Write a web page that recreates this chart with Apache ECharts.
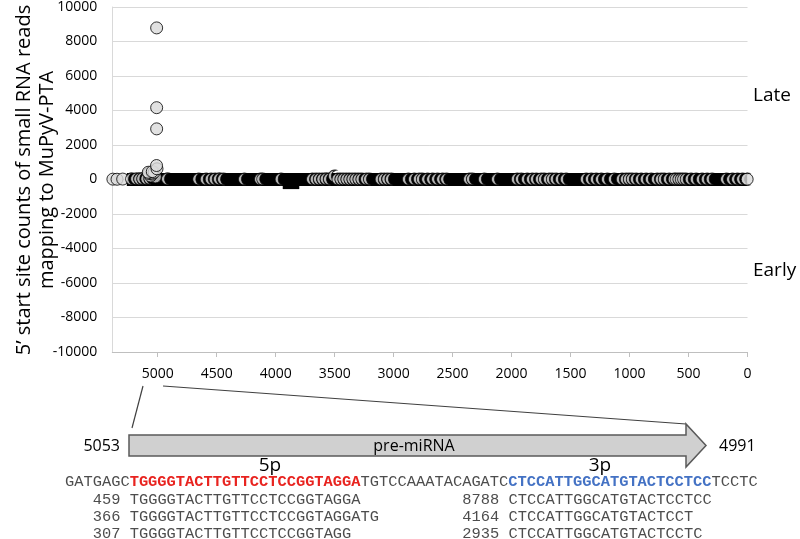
<!DOCTYPE html>
<html><head><meta charset="utf-8">
<script src="https://cdn.jsdelivr.net/npm/echarts@6/dist/echarts.min.js"></script>
<style>html,body{margin:0;padding:0;background:#fff}#c{width:800px;height:539px}</style>
</head><body><div id="c"></div>
<script>
// ---- axis ticks ----
const xTickValues = [5000, 4500, 4000, 3500, 3000, 2500, 2000, 1500, 1000, 500, 0];
const genomeMax = 5385;
const yMin = -10000, yMax = 10000, yStep = 2000;

// ---- 5' start sites with few reads (genome position, count) ----
const backgroundSites = [
  [5380,20],[5345,15],[5297,25],[5260,30],[5217,40],[5190,30],[5165,50],[5130,40],[5105,60],
  [4955,30],[4690,20],[4627,15],[4585,25],[4551,20],[4515,30],[4480,20],[4303,15],[4167,20],[4148,25],[3992,20],
  [3726,20],[3695,15],[3667,25],[3638,20],[3610,30],[3582,20],[3540,200],
  [3510,20],[3485,15],[3460,25],[3434,20],[3409,15],[3383,25],[3358,20],[3332,15],[3307,20],[3268,25],[3243,20],
  [3144,15],[3116,20],[3087,25],[3057,20],
  [2913,15],[2862,20],[2820,25],[2795,20],[2750,15],[2708,20],[2666,25],[2623,20],[2589,15],
  [2395,20],[2370,25],[2269,20],[2158,15],[1990,20],[1955,25],
  [1905,20],[1862,15],[1828,20],[1786,25],[1760,20],[1718,15],[1693,20],[1660,25],[1617,20],[1575,15],
  [1405,20],[1362,25],[1320,20],[1277,15],[1226,20],[1167,25],
  [1100,20],[1066,15],[1040,20],[1015,25],[981,20],[939,15],[897,20],[854,25],[803,20],[769,15],[744,20],[701,25],
  [660,20],[643,20],[620,15],[600,15],[580,20],[558,20],[516,25],[473,20],[422,15],[380,20],[338,25],
  [216,20],[165,15],[123,20],[80,25],[38,20],[3,15]
];
// ---- stretches where sites are so dense that the markers merge (start, end, level) ----
const denseRuns = [[5262, 3, 0], [3940, 3800, -180]];
// ---- minor sites around the miRNA locus ----
const locusSites = [[5075,350],[5080,420],[5060,200],[5030,420],[5020,150],[5006,620],[5010,810]];

// ---- miRNA reads ----
const preStart = 5053, preEnd = 4991;
const fivePStart = 5046, threePStart = 5009;
const fivePCounts = [459, 366, 307];
const fivePSeqs = ['TGGGGTACTTGTTCCTCCGGTAGGA','TGGGGTACTTGTTCCTCCGGTAGGATG','TGGGGTACTTGTTCCTCCGGTAGG'];
const threePCounts = [8788, 4164, 2935];
const threePSeqs = ['CTCCATTGGCATGTACTCCTCC','CTCCATTGGCATGTACTCCT','CTCCATTGGCATGTACTCCTC'];
const flankLeft = 'GATGAGC', armFiveP = 'TGGGGTACTTGTTCCTCCGGTAGGA', loopSeq = 'TGTCCAAATACAGATC',
      armThreeP = 'CTCCATTGGCATGTACTCCTCC', flankRight = 'TCCTC';

const chart = echarts.init(document.getElementById('c'), null, {renderer: 'canvas'});
const UI = "'Open Sans', 'Liberation Sans', sans-serif";
const MONO = "'Liberation Mono', 'DejaVu Sans Mono', monospace";

const circleStyle = {color: '#d9d9d9', borderColor: '#000', borderWidth: 1};
// visible left sliver of a circle that is overlapped by its right neighbours
const crescent = 'path://M7.5,0.19 A6,6 0 1 0 7.5,11.81 A6,6 0 0 1 7.5,0.19 Z';
const sorted = backgroundSites.slice().sort((a,b)=>b[0]-a[0]);
const isEnd = p => p[0] > 5280 || p[0] < 10;

const series = [];
series.push({type: 'scatter', symbol: 'circle', symbolSize: 12, clip: false, z: 2,
  itemStyle: circleStyle, data: sorted.filter(p => p[0] > 5280)});
denseRuns.forEach(r => series.push({type: 'line', z: 3, symbol: 'none', clip: false, silent: true,
  lineStyle: {color: '#000', width: 13, cap: 'butt'}, data: [[r[0], r[2]], [r[1], r[2]]]}));
series.push({type: 'scatter', symbol: crescent, symbolSize: [7.5, 12], symbolOffset: [2.25, 0], clip: false, z: 4,
  itemStyle: {color: '#e2e2e2', borderColor: '#000', borderWidth: 1}, data: sorted.filter(p => !isEnd(p))});
series.push({type: 'scatter', symbol: 'circle', symbolSize: 12, clip: false, z: 4,
  itemStyle: circleStyle, data: sorted.filter(p => p[0] < 10)});
const highPoints = locusSites.concat(
  fivePCounts.map(c => [fivePStart, c]),
  threePCounts.map(c => [threePStart, c])
).sort((a,b)=>a[1]-b[1]);
series.push({type: 'scatter', symbol: 'circle', symbolSize: 12, clip: false, z: 5,
  itemStyle: circleStyle, data: highPoints});

// ---- annotation below the chart ----
const cw = 9.24, seqX0 = 65;
const colX = c => seqX0 + c * cw;
const fiveCol = flankLeft.length;
const threeCol = flankLeft.length + armFiveP.length + loopSeq.length;
const mid = {verticalAlign: 'middle', textVerticalAlign: 'middle'};
const graphics = [];
graphics.push({type: 'text', x: 36, y: 180, rotation: Math.PI/2, style: Object.assign({
  text: '5’ start site counts of small RNA reads\nmapping to MuPyV-PTA', font: '20px ' + UI,
  fill: '#000', align: 'center', textAlign: 'center', lineHeight: 23}, mid)});
graphics.push({type: 'text', x: 753, y: 96, style: Object.assign({text: 'Late', font: '19px ' + UI, fill: '#000'}, mid)});
graphics.push({type: 'text', x: 753, y: 271, style: Object.assign({text: 'Early', font: '19px ' + UI, fill: '#000'}, mid)});
graphics.push({type: 'polyline', shape: {points: [[143,386],[132,428]]}, style: {stroke: '#404040', lineWidth: 1.2, fill: null}});
graphics.push({type: 'polyline', shape: {points: [[163,386],[686,424]]}, style: {stroke: '#404040', lineWidth: 1.2, fill: null}});
graphics.push({type: 'polygon', shape: {points: [[129,435],[686,435],[686,424],[706,445.5],[686,467],[686,456],[129,456]]},
  style: {fill: '#d0d0d0', stroke: '#5a5a5a', lineWidth: 1.5}});
graphics.push({type: 'text', x: 414, y: 446, style: Object.assign({text: 'pre-miRNA', font: '16px ' + UI, fill: '#000', align: 'center', textAlign: 'center'}, mid)});
graphics.push({type: 'text', x: 120, y: 446, style: Object.assign({text: String(preStart), font: '16px ' + UI, fill: '#000', align: 'right', textAlign: 'right'}, mid)});
graphics.push({type: 'text', x: 719, y: 446, style: Object.assign({text: String(preEnd), font: '16px ' + UI, fill: '#000', align: 'left', textAlign: 'left'}, mid)});
graphics.push({type: 'text', x: 270, y: 466, style: Object.assign({text: '5p', font: '19px ' + UI, fill: '#000', align: 'center', textAlign: 'center'}, mid)});
graphics.push({type: 'text', x: 600, y: 466, style: Object.assign({text: '3p', font: '19px ' + UI, fill: '#000', align: 'center', textAlign: 'center'}, mid)});
graphics.push({type: 'text', x: seqX0, y: 482, style: Object.assign({
  text: '{g|' + flankLeft + '}{r|' + armFiveP + '}{g|' + loopSeq + '}{b|' + armThreeP + '}{g|' + flankRight + '}',
  font: '15.4px ' + MONO,
  rich: {g: {fill: '#4d4d4d', font: '15.4px ' + MONO},
         r: {fill: '#e8231f', font: 'bold 15.4px ' + MONO},
         b: {fill: '#4472c4', font: 'bold 15.4px ' + MONO}}}, mid)});
const rowY = [500, 517, 534];
const readText = (x, y, t, right) => ({type: 'text', x: x, y: y, style: Object.assign({text: t, font: '15.4px ' + MONO,
  fill: '#4d4d4d', align: right ? 'right' : 'left', textAlign: right ? 'right' : 'left'}, mid)});
fivePCounts.forEach((c, i) => {
  graphics.push(readText(colX(fiveCol - 1), rowY[i], String(c), true));
  graphics.push(readText(colX(fiveCol), rowY[i], fivePSeqs[i], false));
});
threePCounts.forEach((c, i) => {
  graphics.push(readText(colX(threeCol - 1), rowY[i], String(c), true));
  graphics.push(readText(colX(threeCol), rowY[i], threePSeqs[i], false));
});

chart.setOption({
  animation: false,
  backgroundColor: '#fff',
  grid: {left: 112.3, right: 52.5, top: 6, bottom: 187, containLabel: false},
  xAxis: {
    type: 'value', min: 0, max: genomeMax, inverse: true, position: 'bottom',
    axisLine: {show: true, onZero: false, lineStyle: {color: '#bfbfbf', width: 1}},
    axisTick: {show: true, length: 5, customValues: xTickValues, lineStyle: {color: '#bfbfbf'}},
    axisLabel: {customValues: xTickValues, formatter: v => String(v), fontSize: 14, fontFamily: UI, color: '#000', margin: 15},
    splitLine: {show: false}
  },
  yAxis: {
    type: 'value', min: yMin, max: yMax, interval: yStep,
    axisLine: {show: true, onZero: false, lineStyle: {color: '#d9d9d9'}},
    axisTick: {show: false},
    axisLabel: {formatter: v => String(v), fontSize: 14, fontFamily: UI, color: '#000', margin: 15},
    splitLine: {show: true, lineStyle: {color: '#d9d9d9', width: 1}}
  },
  series: series,
  graphic: graphics
});
</script></body></html>
